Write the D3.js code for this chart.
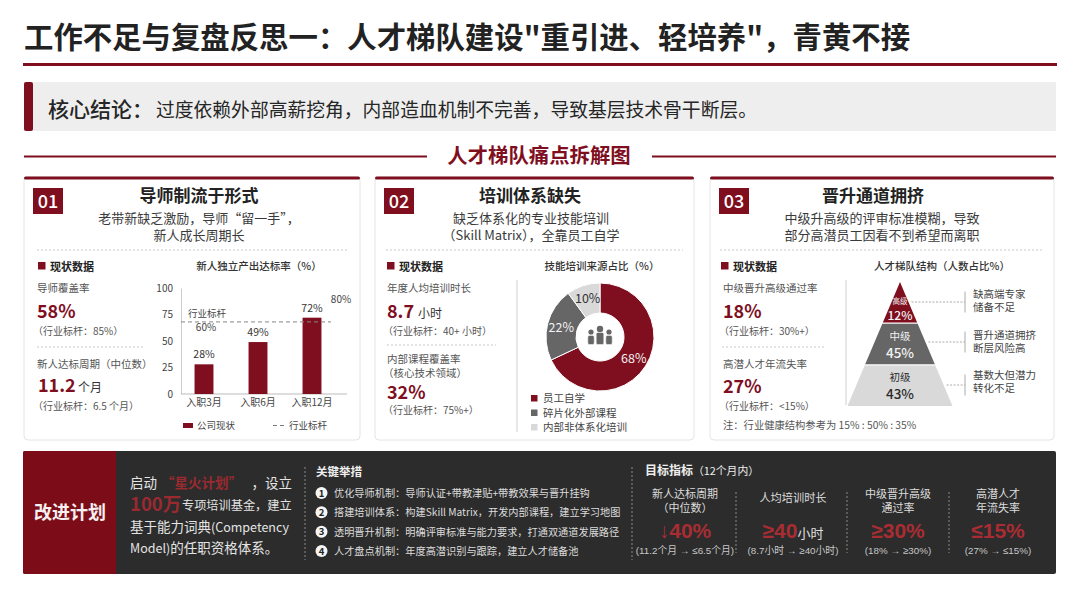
<!DOCTYPE html>
<html>
<head>
<meta charset="utf-8">
<script src="https://cdn.jsdelivr.net/npm/d3@7"></script>
<style>
  html, body { margin: 0; padding: 0; background: #fff; }
  svg { display: block; }
  text { font-family: "Noto Sans CJK SC", "Noto Sans", sans-serif; }
</style>
</head>
<body>
<div id="chart"></div>
<script>
// bar chart
const barCats = ["入职3月", "入职6月", "入职12月"];
const barValues = [28, 49, 72];
const barTicks = [0, 25, 50, 75, 100];
const barBenchmark = 68;
// donut
const donutLabels = ["员工自学", "碎片化外部课程", "内部非体系化培训"];
const donutValues = [68, 22, 10];
// pyramid
const tierNames = ["高级", "中级", "初级"];
const tierValues = [12, 45, 43];
const tierNotes = [["缺高端专家", "储备不足"], ["晋升通道拥挤", "断层风险高"], ["基数大但潜力", "转化不足"]];
// cards
const cardNums = ["01", "02", "03"];
const cardTitles = ["导师制流于形式", "培训体系缺失", "晋升通道拥挤"];
const cardSubs = [
  ["老带新缺乏激励，导师“留一手”，", "新人成长周期长"],
  ["缺乏体系化的专业技能培训", "（Skill Matrix），全靠员工自学"],
  ["中级升高级的评审标准模糊，导致", "部分高潜员工因看不到希望而离职"]
];
const chartTitles = ["新人独立产出达标率（%）", "技能培训来源占比（%）", "人才梯队结构（人数占比%）"];
// bottom panel
const measures = [
  "优化导师机制：导师认证+带教津贴+带教效果与晋升挂钩",
  "搭建培训体系：构建Skill Matrix，开发内部课程，建立学习地图",
  "透明晋升机制：明确评审标准与能力要求，打通双通道发展路径",
  "人才盘点机制：年度高潜识别与跟踪，建立人才储备池"
];
const targetHeads = [["新人达标周期", "（中位数）"], ["人均培训时长"], ["中级晋升高级", "通过率"], ["高潜人才", "年流失率"]];
const targetBig = ["↓40%", "≥40", "≥30%", "≤15%"];
const targetUnit = ["", "小时", "", ""];
const targetSub = ["(11.2个月 → ≤6.5个月)", "(8.7小时 → ≥40小时)", "(18% → ≥30%)", "(27% → ≤15%)"];

const RED = "#7f0f1f", INK = "#2b2b2b", GREY = "#555", MID = "#666", LIGHT = "#d9d9d9", ACCENT = "#a92c33";
const LATIN = '"Liberation Sans", "Noto Sans CJK SC", sans-serif';

const svg = d3.select("#chart").append("svg").attr("width", 1080).attr("height", 608);

function txt(parent, x, y, s, size, fill, opts = {}) {
  return parent.append("text")
    .attr("x", x).attr("y", y)
    .attr("font-size", size)
    .attr("fill", fill || INK)
    .attr("font-weight", opts.weight || 400)
    .attr("text-anchor", opts.anchor || "start")
    .text(s);
}
function dotted(x1, y1, x2, y2, color, dash) {
  svg.append("line").attr("x1", x1).attr("y1", y1).attr("x2", x2).attr("y2", y2)
    .attr("stroke", color || "#c9c9c9").attr("stroke-width", 1)
    .attr("stroke-dasharray", dash || "2,2");
}

// Header
txt(svg, 24, 48, "工作不足与复盘反思一：人才梯队建设\"重引进、轻培养\"，青黄不接", 29.4, "#222", { weight: 700 });
svg.append("rect").attr("x", 23).attr("y", 63).attr("width", 1034).attr("height", 3).attr("fill", RED);

svg.append("rect").attr("x", 24).attr("y", 82).attr("width", 1032).attr("height", 49).attr("fill", "#eeeeee");
svg.append("rect").attr("x", 24).attr("y", 82).attr("width", 9).attr("height", 49).attr("rx", 2).attr("fill", RED);
txt(svg, 48, 117, "核心结论：", 21, "#262626", { weight: 500 });
txt(svg, 156, 117, "过度依赖外部高薪挖角，内部造血机制不完善，导致基层技术骨干断层。", 18.8, "#262626");

txt(svg, 539, 163, "人才梯队痛点拆解图", 20.4, RED, { weight: 700, anchor: "middle" });
svg.append("rect").attr("x", 24).attr("y", 155.5).attr("width", 403).attr("height", 2).attr("fill", RED);
svg.append("rect").attr("x", 652).attr("y", 155.5).attr("width", 404).attr("height", 2).attr("fill", RED);

// Cards
function card(i, x, w, titleX, subX, rule0, rule1) {
  svg.append("rect").attr("x", x).attr("y", 177).attr("width", w).attr("height", 263).attr("rx", 4)
    .attr("fill", "#fff").attr("stroke", "#e4e4e4");
  svg.append("rect").attr("x", x).attr("y", 176.5).attr("width", w).attr("height", 3).attr("rx", 1.5).attr("fill", RED);
  const bx = x + 9;
  svg.append("rect").attr("x", bx).attr("y", 188).attr("width", 30).attr("height", 26).attr("fill", RED);
  txt(svg, bx + 15, 207.5, cardNums[i], 18, "#fff", { anchor: "middle", weight: 500 });
  txt(svg, titleX, 202, cardTitles[i], 17, "#222", { anchor: "middle", weight: 700 });
  txt(svg, subX, 223, cardSubs[i][0], 13, "#3a3a3a", { anchor: "middle" });
  txt(svg, subX, 240, cardSubs[i][1], 13, "#3a3a3a", { anchor: "middle" });
  dotted(rule0, 250, rule1, 250);
  svg.append("rect").attr("x", rule0 + 1).attr("y", 262).attr("width", 7.5).attr("height", 7.5).attr("fill", RED);
  txt(svg, rule0 + 13, 271, "现状数据", 11, "#222", { weight: 700 });
}
card(0, 24, 336, 199, 199, 37, 348);
card(1, 375, 319, 530, 531, 386, 683);
card(2, 710, 344, 873, 882, 720, 1043);

function metricBig(x, y, val, unit) {
  txt(svg, x, y, val, 18, RED, { weight: 700 });
  if (unit) txt(svg, x + val.length * 9 + 4, y, unit, 12, "#333");
}

// Card 1 metrics
txt(svg, 37, 292, "导师覆盖率", 10.5, GREY);
metricBig(37, 318, "58%");
txt(svg, 33, 335, "（行业标杆：85%）", 10, GREY);
dotted(37, 347, 145, 347);
txt(svg, 37, 368, "新人达标周期（中位数）", 10.5, GREY);
metricBig(38, 392, "11.2", "个月");
txt(svg, 33, 410, "（行业标杆：6.5 个月）", 10, GREY);

// Card 2 metrics
txt(svg, 387, 292, "年度人均培训时长", 10.5, GREY);
metricBig(387, 318, "8.7", "小时");
txt(svg, 383, 335, "（行业标杆：40+ 小时）", 10, GREY);
dotted(387, 345, 496, 345);
txt(svg, 387, 363, "内部课程覆盖率", 10.5, GREY);
txt(svg, 383, 377, "（核心技术领域）", 10.5, GREY);
metricBig(387, 399, "32%");
txt(svg, 383, 414, "（行业标杆：75%+）", 10, GREY);

// Card 3 metrics
txt(svg, 723, 292, "中级晋升高级通过率", 10.5, GREY);
metricBig(723, 318, "18%");
txt(svg, 719, 335, "（行业标杆：30%+）", 10, GREY);
dotted(722, 347, 825, 347);
txt(svg, 723, 368, "高潜人才年流失率", 10.5, GREY);
metricBig(723, 393, "27%");
txt(svg, 719, 410, "（行业标杆：<15%）", 10, GREY);
txt(svg, 723, 429, "注：行业健康结构参考为 15% : 50% : 35%", 10.3, GREY);

// Bar chart
txt(svg, 259, 270, chartTitles[0], 10.5, "#333", { anchor: "middle", weight: 500 });
const x = d3.scaleBand().domain(barCats).range([177, 339]).paddingInner(0.65).paddingOuter(0.325);
const y = d3.scaleLinear().domain([0, 100]).range([394, 288]);

const gy = svg.append("g").attr("transform", "translate(181,0)")
  .call(d3.axisLeft(y).tickValues(barTicks).tickSize(0).tickPadding(8));
gy.select(".domain").attr("stroke", "#ccc");
gy.selectAll("text").attr("font-size", 10).attr("fill", "#444").style("font-family", '"Noto Sans CJK SC"');

const gx = svg.append("g").attr("transform", "translate(0,394)")
  .call(d3.axisBottom(x).tickSize(0).tickPadding(5));
gx.select(".domain").remove();
gx.selectAll("text").attr("font-size", 10).attr("fill", "#444").style("font-family", '"Noto Sans CJK SC"');
svg.append("line").attr("x1", 181).attr("x2", 347).attr("y1", 394).attr("y2", 394).attr("stroke", "#bbb");

svg.selectAll("rect.bar").data(barValues).enter().append("rect").attr("class", "bar")
  .attr("x", (d, i) => x(barCats[i]))
  .attr("y", d => y(d))
  .attr("width", x.bandwidth())
  .attr("height", d => y(0) - y(d))
  .attr("fill", RED);
svg.selectAll("text.barval").data(barValues).enter().append("text").attr("class", "barval")
  .attr("x", (d, i) => x(barCats[i]) + x.bandwidth() / 2)
  .attr("y", d => y(d) - 6)
  .attr("text-anchor", "middle").attr("font-size", 10.5).attr("fill", "#333")
  .text(d => d + "%");

dotted(181, y(barBenchmark), 331, y(barBenchmark), "#888", "4,3");
txt(svg, 207, 317, "行业标杆", 9.5, "#444", { anchor: "middle" });
txt(svg, 206, 331, "60%", 10, "#444", { anchor: "middle" });
txt(svg, 341, 303, "80%", 10, "#444", { anchor: "middle" });

svg.append("rect").attr("x", 183).attr("y", 423).attr("width", 10).attr("height", 5).attr("fill", RED);
txt(svg, 197, 429, "公司现状", 9.5, "#444");
dotted(273, 425.5, 285, 425.5, "#777", "4,3");
txt(svg, 289, 429, "行业标杆", 9.5, "#444");

// Donut
txt(svg, 602, 270, chartTitles[1], 10.5, "#333", { anchor: "middle", weight: 500 });
dotted(517, 280, 517, 432, "#cfcfcf", "none");
const donutColor = d3.scaleOrdinal().domain(donutLabels).range([RED, MID, LIGHT]);
const pie = d3.pie().sort(null).value(d => d);
const arc = d3.arc().innerRadius(24).outerRadius(54);
const labelArc = d3.arc().innerRadius(40).outerRadius(40);
const gd = svg.append("g").attr("transform", "translate(600,337)");
const slices = pie(donutValues);
gd.selectAll("path").data(slices).enter().append("path")
  .attr("d", arc)
  .attr("fill", (d, i) => donutColor(donutLabels[i]))
  .attr("stroke", "#fff").attr("stroke-width", 1);
gd.selectAll("text").data(slices).enter().append("text")
  .attr("transform", d => `translate(${labelArc.centroid(d)})`)
  .attr("text-anchor", "middle").attr("dy", "0.36em")
  .attr("font-size", 12.5)
  .attr("fill", (d, i) => i === 2 ? "#333" : "#f3f3f3")
  .text(d => d.value + "%");
// people icon in the hole
[[-9, 2, 3.2], [9, 2, 3.2], [0, -1, 3.8]].forEach(p => {
  gd.append("circle").attr("cx", p[0]).attr("cy", p[1] - 7).attr("r", p[2] - 0.6).attr("fill", MID);
  gd.append("rect").attr("x", p[0] - p[2]).attr("y", p[1] - 3.5).attr("width", p[2] * 2).attr("height", 11 - p[1])
    .attr("rx", 1.5).attr("fill", MID).attr("stroke", "#fff").attr("stroke-width", 0.5);
});
const legendY = d3.scalePoint().domain(donutLabels).range([398, 427]);
donutLabels.forEach(l => {
  svg.append("rect").attr("x", 531).attr("y", legendY(l) - 3).attr("width", 6.5).attr("height", 6.5).attr("fill", donutColor(l));
  txt(svg, 543, legendY(l) + 4, l, 10.5, "#444");
});

// Pyramid
txt(svg, 942, 270, chartTitles[2], 10.5, "#333", { anchor: "middle", weight: 500 });
dotted(846, 280, 846, 405, "#cfcfcf", "none");
const tierY = d3.scaleBand().domain(tierNames).range([282, 406]).paddingInner(0.03);
const halfW = d3.scaleLinear().domain([282, 406]).range([0, 52.5]);
const tierColor = d3.scaleOrdinal().domain(tierNames).range([RED, MID, LIGHT]);
const nameSize = [7.5, 10.5, 10.5], valueSize = [12, 13.5, 13.5];
const nameY = [304, 339.5, 380.5], valueY = [319.5, 358, 399];
const leadY = [302, 342, 385], noteY = [298, 339, 379];
tierNames.forEach((t, i) => {
  const y0 = tierY(t), y1 = y0 + tierY.bandwidth();
  svg.append("polygon")
    .attr("points", [[900 - halfW(y0), y0], [900 + halfW(y0), y0], [900 + halfW(y1), y1], [900 - halfW(y1), y1]].join(" "))
    .attr("fill", tierColor(t));
  const c = i === 2 ? "#2b2b2b" : "#f2f2f2";
  txt(svg, 900, nameY[i], t, nameSize[i], c, { anchor: "middle" });
  txt(svg, 900, valueY[i], tierValues[i] + "%", valueSize[i], c, { anchor: "middle", weight: 500 });
  dotted(900 + halfW(leadY[i]) + 3, leadY[i], 965, leadY[i], "#aaa", "2,1.5");
  dotted(965, leadY[i] - 10.5, 965, leadY[i] + 10.5, "#aaa", "none");
  txt(svg, 973, noteY[i], tierNotes[i][0], 10.5, "#444");
  txt(svg, 973, noteY[i] + 13, tierNotes[i][1], 10.5, "#444");
});

// Bottom panel
svg.append("rect").attr("x", 23).attr("y", 451).attr("width", 1033).attr("height", 123).attr("rx", 2).attr("fill", "#2c2c2c");
svg.append("path").attr("d", "M25,451 H116 V574 H25 a2,2 0 0 1 -2,-2 V453 a2,2 0 0 1 2,-2z").attr("fill", "#7c0d18");
txt(svg, 70, 519, "改进计划", 18, "#f6f0f0", { anchor: "middle", weight: 700 });

const W = "#e4e4e4", PLAN = "#9a2a30";
txt(svg, 130, 488, "启动", 13.5, W);
txt(svg, 161, 488, "“星火计划”", 13.5, PLAN, { weight: 700 });
txt(svg, 292, 488, "，设立", 13.5, W, { anchor: "end" });
txt(svg, 130, 511, "100万", 18.5, PLAN, { weight: 700 });
txt(svg, 182, 510, "专项培训基金，建立", 12.2, W);
const l3 = txt(svg, 130, 532, "基于能力词典", 13.5, W);
l3.append("tspan").attr("font-size", 12.5).text("(Competency");
const l4 = txt(svg, 130, 553, "Model)", 12.5, W);
l4.append("tspan").attr("font-size", 13.5).text("的任职资格体系。");

dotted(305, 467, 305, 560, "#8a8a8a", "2,2");
txt(svg, 316, 476, "关键举措", 11.5, "#efefef", { weight: 700 });
const itemY = d3.scalePoint().domain(measures).range([493, 551]);
measures.forEach((m, i) => {
  svg.append("circle").attr("cx", 321.5).attr("cy", itemY(m)).attr("r", 6).attr("fill", "#f5f5f5");
  txt(svg, 321.5, itemY(m) + 3.5, i + 1, 9.5, "#222", { anchor: "middle", weight: 700 });
  txt(svg, 334, itemY(m) + 4, m, 10.2, "#dcdcdc");
});

dotted(632, 467, 632, 560, "#8a8a8a", "2,2");
const tt = txt(svg, 645, 475, "", 12, "#efefef");
tt.append("tspan").attr("font-weight", 700).text("目标指标");
tt.append("tspan").attr("font-size", 10.8).text("（12个月内）");

const cols = [685, 793, 898, 998];
[736, 847, 949].forEach(d => dotted(d, 492, d, 553, "#8a8a8a", "2,2"));
targetBig.forEach((b, i) => {
  const cx = cols[i];
  const heads = targetHeads[i];
  if (heads.length === 1) {
    txt(svg, cx, 502, heads[0], 11.2, "#dcdcdc", { anchor: "middle" });
  } else {
    txt(svg, cx, 498, heads[0], 11, "#dcdcdc", { anchor: "middle" });
    txt(svg, cx, 512, heads[1], 11, "#dcdcdc", { anchor: "middle" });
  }
  const big = txt(svg, cx, 538, "", 21, ACCENT, { anchor: "middle", weight: 700 }).style("font-family", LATIN);
  big.append("tspan").text(b);
  if (targetUnit[i]) big.append("tspan").attr("font-size", 13).attr("font-weight", 400).attr("fill", "#e0e0e0").text(targetUnit[i]);
  txt(svg, cx, 554, targetSub[i], 9.8, "#c8c8c8", { anchor: "middle" }).style("font-family", LATIN);
});
</script>
</body>
</html>
